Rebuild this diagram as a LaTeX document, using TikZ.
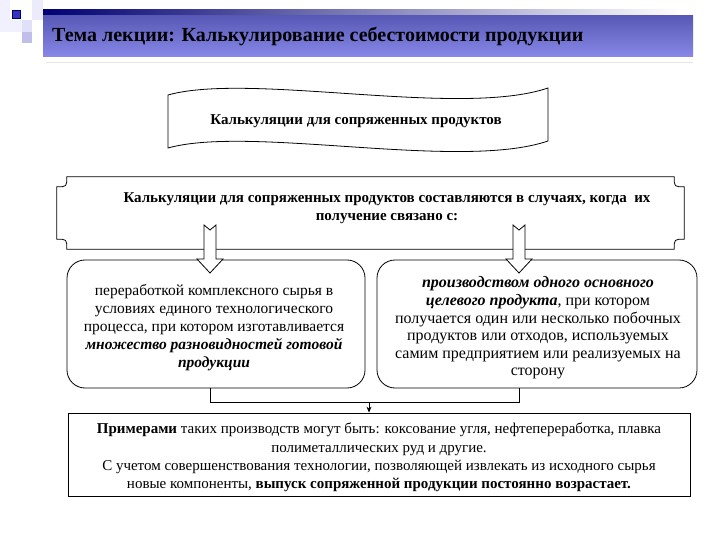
\documentclass[tikz,border=0pt]{standalone}
\usepackage{fontspec}
\setmainfont{Liberation Serif}
\usetikzlibrary{arrows.meta,calc}
\tikzset{
  txt/.style={font=\fontsize{15}{18.3}\selectfont, align=center, inner sep=0pt},
  ltxt/.style={font=\fontsize{15.5}{18}\selectfont, align=center, inner sep=0pt},
  rtxt/.style={font=\fontsize{16}{17.6}\selectfont, align=center, inner sep=0pt},
  btxt/.style={font=\bfseries\fontsize{15}{18}\selectfont, align=center, inner sep=0pt},
  rbox/.style={draw=black, line width=0.8pt, rounded corners=18pt, inner sep=0pt},
  sbox/.style={draw=black, line width=0.8pt, inner sep=0pt},
  blockarrow/.style={draw=black, fill=white, line width=0.8pt, line join=miter},
  conn/.style={draw=black, line width=0.8pt},
}
\begin{document}
\begin{tikzpicture}[x=1pt,y=-1pt]
\useasboundingbox (0,0) rectangle (720,540);
\fill[white] (0,0) rectangle (720,540);
% --- title decoration
\fill[black!8!blue!6] (0,0) rectangle (10,32);
\fill[black!12!blue!8] (32,0) rectangle (43,20);
\fill[black!18!blue!12] (22,20) rectangle (32,32);
\fill[black!35!blue!25] (22,32) rectangle (32,43);
\fill[black!8!blue!6] (10,20) rectangle (22,32);
\fill[blue!40!black] (12,10) rectangle (21,19);
\fill[blue!70!black!80] (13,11) rectangle (20,18);
\shade[left color=blue!45!black, right color=white] (43,10) rectangle (682,16);
\shade[top color={rgb,255:red,88;green,88;blue,182}, bottom color={rgb,255:red,136;green,136;blue,232}] (43,16) rectangle (693,57);
\draw[black!10, line width=0.8pt] (46,62) -- (693,62);
\node[anchor=west, font=\bfseries\fontsize{20}{22}\selectfont, inner sep=0pt] (title) at (52,37) {Тема лекции: Калькулирование себестоимости продукции};
% --- wave banner
\draw[line width=0.8pt, fill=white] (168,95) .. controls (250,72) and (460,118) .. (548,88)
  -- (548,141) .. controls (460,171) and (250,125) .. (168,148) -- cycle;
\node[btxt] (banner) at (356,121) {Калькуляции для сопряженных продуктов};
% --- plaque
\node[minimum width=627pt, minimum height=72pt, inner sep=0pt] (plaque) at (370.5,213) {};
\draw[line width=0.8pt]
  ($(plaque.north west)+(10,0)$) -- ($(plaque.north east)+(-10,0)$)
  .. controls ($(plaque.north east)+(-10,10)$) .. ($(plaque.north east)+(0,10)$)
  -- ($(plaque.south east)+(0,-10)$)
  .. controls ($(plaque.south east)+(-10,-10)$) .. ($(plaque.south east)+(-10,0)$)
  -- ($(plaque.south west)+(10,0)$)
  .. controls ($(plaque.south west)+(10,-10)$) .. ($(plaque.south west)+(0,-10)$)
  -- ($(plaque.north west)+(0,10)$)
  .. controls ($(plaque.north west)+(10,10)$) .. ($(plaque.north west)+(10,0)$) -- cycle;
\node[btxt] (plaquetext) at (387,208) {Калькуляции для сопряженных продуктов составляются в случаях, когда\ \ их\\получение связано с:};
% --- two rounded boxes
\node[rbox, minimum width=298pt, minimum height=128pt] (lbox) at (216,324) {};
\node[ltxt] (ltext) at (214,328) {переработкой комплексного сырья в\\условиях единого технологического\\процесса, при котором изготавливается\\\textbf{\textit{множество разновидностей готовой}}\\\textbf{\textit{продукции}}};
\node[rbox, minimum width=320pt, minimum height=128pt] (rbox) at (537,324) {};
\node[rtxt] (rtext) at (538,328) {\textbf{\textit{производством одного основного}}\\\textbf{\textit{целевого продукта}}, при котором\\получается один или несколько побочных\\продуктов или отходов, используемых\\самим предприятием или реализуемых на\\сторону};
% --- block arrows
\coordinate (arrL) at (210,225);
\coordinate (arrR) at (519,225);
\foreach \a in {arrL,arrR}{
  \draw[blockarrow] ($(\a)+(-6,0)$) -- ($(\a)+(0,5)$) -- ($(\a)+(6,0)$) -- ($(\a)+(6,34)$)
    -- ($(\a)+(13,34)$) -- ($(\a)+(0,48)$) -- ($(\a)+(-13,34)$) -- ($(\a)+(-6,34)$) -- cycle;
}
% --- bottom box
\node[sbox, minimum width=622pt, minimum height=83pt] (bbox) at (379,454.5) {};
\node[txt] (btext) at (379,457.5) {\textbf{Примерами} таких производств могут быть: коксование угля, нефтепереработка, плавка\\полиметаллических руд и другие.\\С учетом совершенствования технологии, позволяющей извлекать из исходного сырья\\новые компоненты, \textbf{выпуск сопряженной продукции постоянно возрастает.}};
% --- connectors
\coordinate (join) at (369,402);
\draw[conn] (lbox.south -| arrL) -- (join -| arrL) -- (join -| arrR) -- (rbox.south -| arrR);
\draw[conn, -{Stealth[length=6pt,width=5pt]}] (join) -- (join |- bbox.north);
\end{tikzpicture}
\end{document}
